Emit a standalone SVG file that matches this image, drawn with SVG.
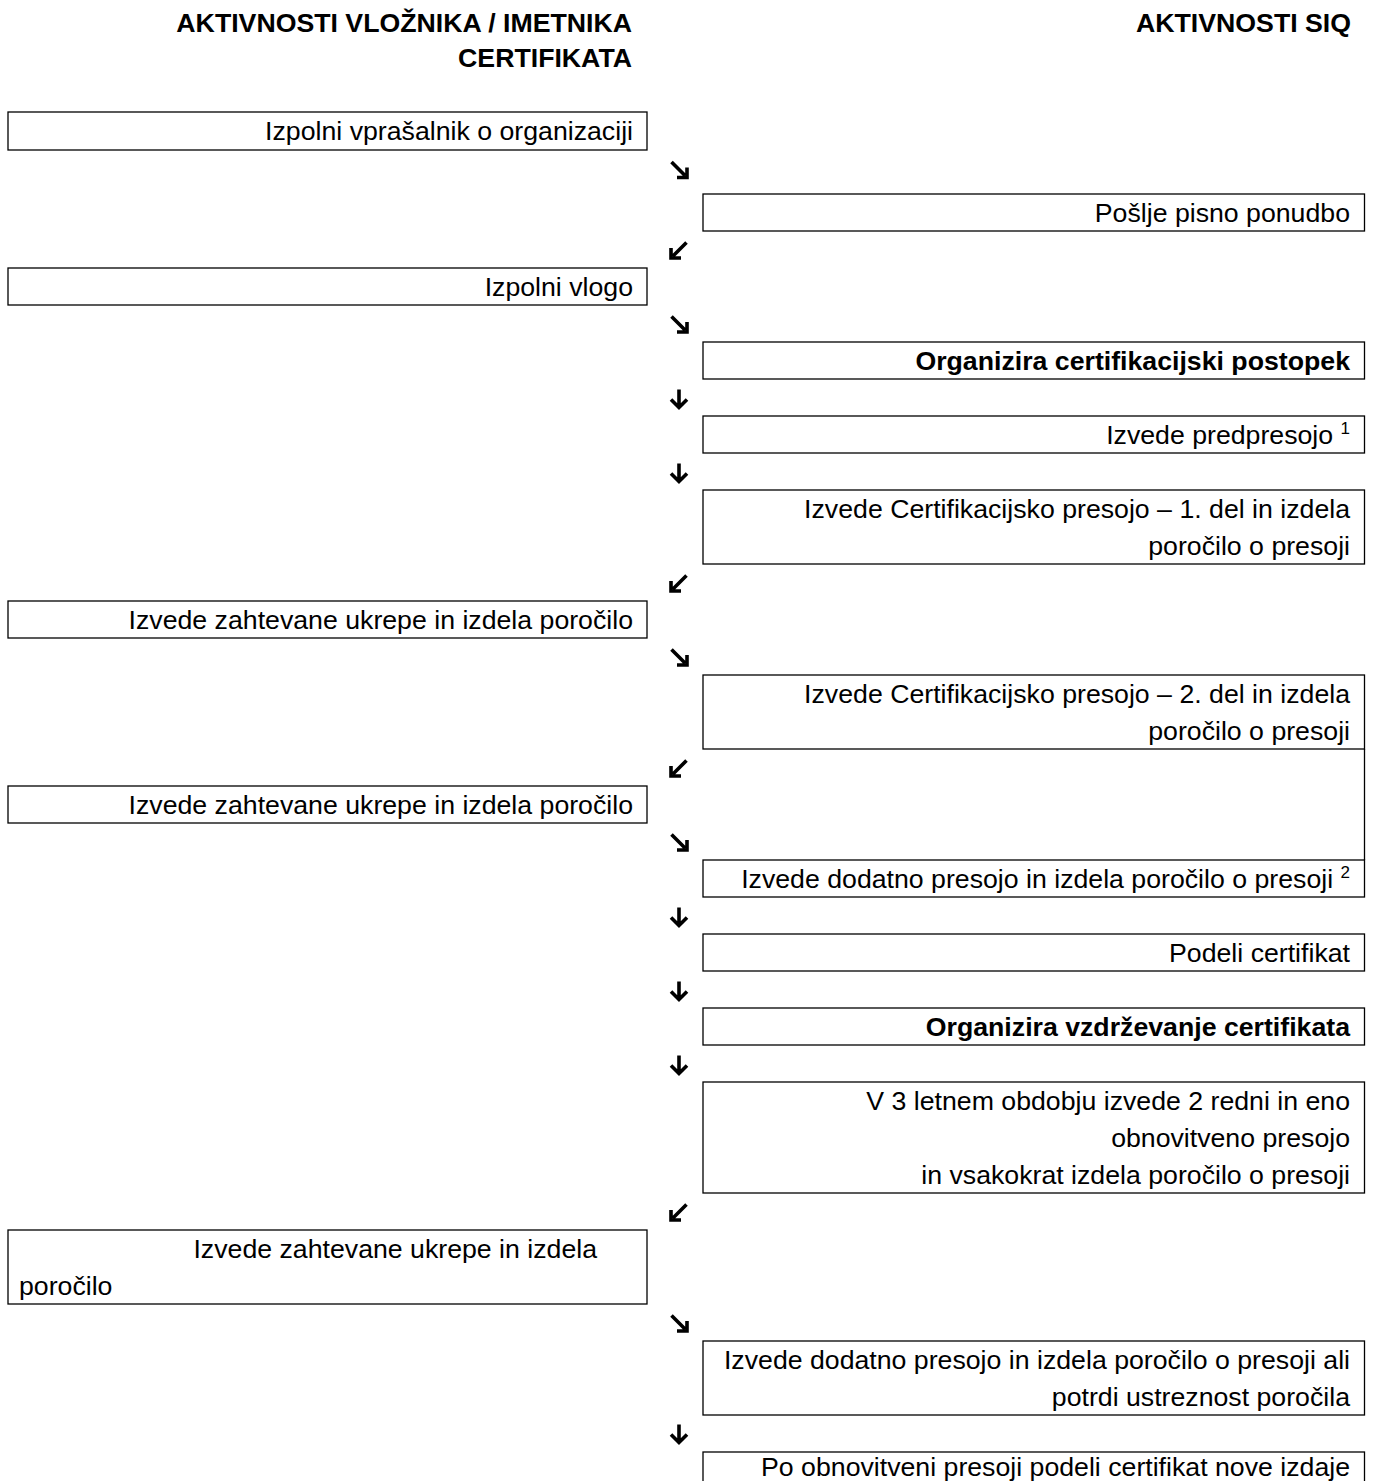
<svg xmlns="http://www.w3.org/2000/svg" width="1375" height="1481" viewBox="0 0 1375 1481">
<style>
text{font-family:"Liberation Sans",Arial,sans-serif;font-size:26.7px;fill:#000}
.b{font-weight:bold}
.e{text-anchor:end}
.box{fill:#fff;stroke:#000;stroke-width:1.3}
.arr{fill:none;stroke:#000;stroke-width:3.6;stroke-linecap:butt;stroke-linejoin:miter}
.sup{font-size:17px}
</style>
<defs>
<path id="dr" class="arr" d="M-7.5,-7.5 L6,6 M8,-2 L8,8 L-2,8"/>
<path id="dl" class="arr" d="M7.5,-7.5 L-6,6 M-8,-2 L-8,8 L2,8"/>
<path id="dn" class="arr" d="M0,-9.5 L0,8 M-8,0.5 L0,8.5 L8,0.5"/>
</defs>
<rect width="1375" height="1481" fill="#fff"/>
<g id="headers">
<text class="b e" x="632" y="32">AKTIVNOSTI VLOŽNIKA / IMETNIKA</text>
<text class="b e" x="632" y="67">CERTIFIKATA</text>
<text class="b e" x="1351" y="32">AKTIVNOSTI SIQ</text>
</g>
<g id="connectors">
<use href="#dr" x="679" y="169.5"/>
<use href="#dl" x="679" y="250"/>
<use href="#dr" x="679" y="324"/>
<use href="#dn" x="679" y="399"/>
<use href="#dn" x="679" y="473"/>
<use href="#dl" x="679" y="583"/>
<use href="#dr" x="679" y="657"/>
<use href="#dl" x="679" y="768"/>
<use href="#dr" x="679" y="842"/>
<use href="#dn" x="679" y="917"/>
<use href="#dn" x="679" y="991"/>
<use href="#dn" x="679" y="1065"/>
<use href="#dl" x="679" y="1212"/>
<use href="#dr" x="679" y="1323"/>
<use href="#dn" x="679" y="1434"/>
<line x1="1364.5" y1="749" x2="1364.5" y2="860" stroke="#000" stroke-width="1.3"/>
</g>
<g id="n1"><rect class="box" x="8" y="112" width="639" height="38"/><text class="e" x="633" y="140">Izpolni vprašalnik o organizaciji</text></g>
<g id="n2"><rect class="box" x="703" y="194" width="661.5" height="37"/><text class="e" x="1350" y="222">Pošlje pisno ponudbo</text></g>
<g id="n3"><rect class="box" x="8" y="268" width="639" height="37"/><text class="e" x="633" y="296">Izpolni vlogo</text></g>
<g id="n4"><rect class="box" x="703" y="342" width="661.5" height="37"/><text class="b e" x="1350" y="370">Organizira certifikacijski postopek</text></g>
<g id="n5"><rect class="box" x="703" y="416" width="661.5" height="37"/><text class="e" x="1350" y="444">Izvede predpresojo <tspan class="sup" dy="-10">1</tspan></text></g>
<g id="n6"><rect class="box" x="703" y="490" width="661.5" height="74"/><text class="e" x="1350" y="518">Izvede Certifikacijsko presojo – 1. del in izdela</text><text class="e" x="1350" y="555">poročilo o presoji</text></g>
<g id="n7"><rect class="box" x="8" y="601" width="639" height="37"/><text class="e" x="633" y="629">Izvede zahtevane ukrepe in izdela poročilo</text></g>
<g id="n8"><rect class="box" x="703" y="675" width="661.5" height="74"/><text class="e" x="1350" y="703">Izvede Certifikacijsko presojo – 2. del in izdela</text><text class="e" x="1350" y="740">poročilo o presoji</text></g>
<g id="n9"><rect class="box" x="8" y="786" width="639" height="37"/><text class="e" x="633" y="814">Izvede zahtevane ukrepe in izdela poročilo</text></g>
<g id="n10"><rect class="box" x="703" y="860" width="661.5" height="37"/><text class="e" x="1350" y="888">Izvede dodatno presojo in izdela poročilo o presoji <tspan class="sup" dy="-10">2</tspan></text></g>
<g id="n11"><rect class="box" x="703" y="934" width="661.5" height="37"/><text class="e" x="1350" y="962">Podeli certifikat</text></g>
<g id="n12"><rect class="box" x="703" y="1008" width="661.5" height="37"/><text class="b e" x="1350" y="1036">Organizira vzdrževanje certifikata</text></g>
<g id="n13"><rect class="box" x="703" y="1082" width="661.5" height="111"/><text class="e" x="1350" y="1110">V 3 letnem obdobju izvede 2 redni in eno</text><text class="e" x="1350" y="1147">obnovitveno presojo</text><text class="e" x="1350" y="1184">in vsakokrat izdela poročilo o presoji</text></g>
<g id="n14"><rect class="box" x="8" y="1230" width="639" height="74"/><text class="e" x="597" y="1258">Izvede zahtevane ukrepe in izdela</text><text x="19" y="1295">poročilo</text></g>
<g id="n15"><rect class="box" x="703" y="1341" width="661.5" height="74"/><text class="e" x="1350" y="1369">Izvede dodatno presojo in izdela poročilo o presoji ali</text><text class="e" x="1350" y="1406">potrdi ustreznost poročila</text></g>
<g id="n16"><rect class="box" x="703" y="1452" width="661.5" height="37"/><text class="e" x="1350" y="1476">Po obnovitveni presoji podeli certifikat nove izdaje</text></g>
</svg>
